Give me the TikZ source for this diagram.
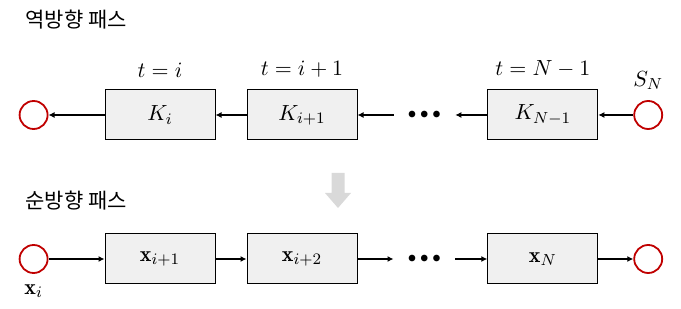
\documentclass[tikz,border=0pt]{standalone}
\usepackage{amsmath}
\usepackage{fontspec}
\newfontfamily\kr{Noto Sans CJK KR}
\usetikzlibrary{arrows.meta,positioning}
\definecolor{ringred}{RGB}{192,0,0}
\tikzset{
  stepbox/.style={rectangle, draw=black, fill=black!6, line width=0.5pt, minimum width=55pt, minimum height=25pt, inner sep=0pt},
  endpt/.style={circle, draw=ringred, fill=white, line width=0.9pt, minimum size=14pt, inner sep=0pt},
  flowarr/.style={-{Latex[length=3pt,width=3pt]}, line width=0.8pt, draw=black},
  tlbl/.style={inner sep=1pt},
  passlbl/.style={font=\kr\fontsize{10.5}{12}\selectfont, anchor=west, inner sep=0pt},
  skipdots/.style={minimum width=30.5pt, inner sep=0pt, font=\footnotesize},
}

\begin{document}
\begin{tikzpicture}[x=0.5pt, y=-0.5pt, node distance=15.5pt]
  \useasboundingbox (0,0) rectangle (681,309);
  \fontsize{11}{13}\selectfont
  % backward pass
  \node[passlbl] (bwd) at (25,20) {역방향 패스};
  \node[stepbox] (k1) at (160,115) {$K_i$};
  \node[stepbox, right=of k1] (k2) {$K_{i+1}$};
  \node[skipdots, right=18pt of k2] (dtop) {$\bullet\bullet\bullet$};
  \node[stepbox, right=16pt of dtop] (k3) {$K_{N-1}$};
  \node[endpt, left=28pt of k1] (lc) {};
  \node[endpt, right=17.5pt of k3] (rc) {};
  \node[tlbl, above=5pt of k1] (t1) {$t=i$};
  \node[tlbl, above=5pt of k2] (t2) {$t=i+1$};
  \node[tlbl, above=5pt of k3] (t3) {$t=N-1$};
  \node[tlbl, above=4pt of rc] (sn) {$S_N$};
  \draw[flowarr] (k1) -- (lc);
  \draw[flowarr] (k2) -- (k1);
  \draw[flowarr] (dtop) -- (k2);
  \draw[flowarr] (k3) -- (dtop);
  \draw[flowarr] (rc) -- (k3);
  % grey hint arrow
  \fill[black!15] (331.5,173) -- (344.5,173) -- (344.5,193) -- (351,193)
    -- (338,208) -- (325,193) -- (331.5,193) -- cycle;
  % forward pass
  \node[passlbl] (fwd) at (25,201) {순방향 패스};
  \node[stepbox, below=46.5pt of k1] (x1) {$\mathbf{x}_{i+1}$};
  \node[stepbox, below=46.5pt of k2] (x2) {$\mathbf{x}_{i+2}$};
  \node[skipdots] (dbot) at (dtop |- x1) {$\bullet\bullet\bullet$};
  \node[stepbox, below=46.5pt of k3] (x3) {$\mathbf{x}_N$};
  \node[endpt] (lc2) at (lc |- x1) {};
  \node[endpt] (rc2) at (rc |- x1) {};
  \node[tlbl, below=4pt of lc2] (xi) {$\mathbf{x}_i$};
  \draw[flowarr] (lc2) -- (x1);
  \draw[flowarr] (x1) -- (x2);
  \draw[flowarr] (x2) -- (dbot);
  \draw[flowarr] (dbot) -- (x3);
  \draw[flowarr] (x3) -- (rc2);
\end{tikzpicture}
\end{document}
